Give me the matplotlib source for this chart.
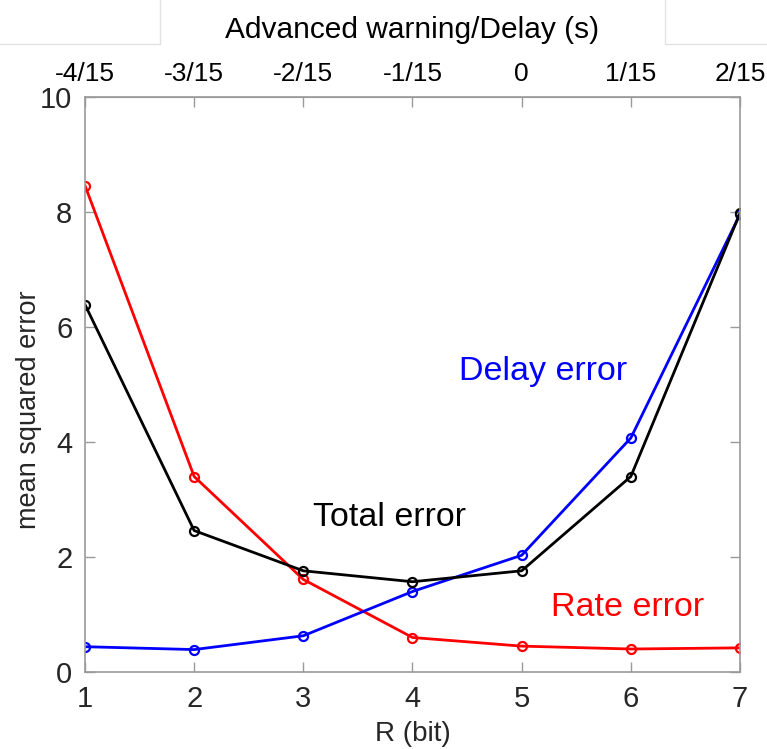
import matplotlib.pyplot as plt
from matplotlib.lines import Line2D

plt.rcParams['font.family'] = ['Liberation Sans', 'DejaVu Sans']

# data
R_bits = [1, 2, 3, 4, 5, 6, 7]
top_labels = ['-4/15', '-3/15', '-2/15', '-1/15', '0', '1/15', '2/15']
rate_err = [8.46, 3.40, 1.61, 0.60, 0.45, 0.40, 0.42]
delay_err = [0.44, 0.39, 0.63, 1.40, 2.03, 4.07, 7.96]
total_err = [6.39, 2.46, 1.76, 1.57, 1.76, 3.40, 7.98]

grey = '#9a9a9a'
txt = '#262626'

fig = plt.figure(figsize=(7.67, 7.49), dpi=100)
ax = fig.add_axes([0.1108, 0.1028, 0.854, 0.7677])

style = dict(lw=2, marker='o', ms=6.5, mfc='none', mew=1.6)
ax.plot(R_bits, rate_err, color='#ff0000', **style)
ax.plot(R_bits, delay_err, color='#0000ff', **style)
ax.plot(R_bits, total_err, color='black', **style)

ax.set_xlim(1, 7)
ax.set_ylim(0, 10)
ax.set_xticks(R_bits)
ax.set_yticks([0, 2, 4, 6, 8, 10])
for s in ax.spines.values():
    s.set_color(grey)
    s.set_linewidth(1.2)
ax.tick_params(direction='in', length=7, width=1, color=grey, labelcolor=txt,
               labelsize=21, top=False, right=True, pad=9)
ax.set_xlabel('R (bit)', fontsize=20, color=txt, labelpad=6)
ax.set_ylabel('mean squared error', fontsize=19.5, color=txt)
ax.yaxis.set_label_coords(-0.066, 0.457)

top = ax.secondary_xaxis('top')
top.set_xticks(R_bits)
top.set_xticklabels(top_labels)
top.tick_params(direction='in', length=7, width=1, color=grey, labelcolor='black',
                labelsize=19, pad=8)
top.spines['top'].set_color(grey)
top.set_xlabel('Advanced warning/Delay (s)', fontsize=21.5, color='black', labelpad=17)

ax.text(5.20, 5.22, 'Delay error', color='#0000ff', fontsize=24.5, ha='center', va='center')
ax.text(3.79, 2.68, 'Total error', color='black', fontsize=24.5, ha='center', va='center')
ax.text(5.97, 1.13, 'Rate error', color='#ff0000', fontsize=24.5, ha='center', va='center')

# faint frame edges seen at the top of the screenshot
fc = '#e2e2e2'
fig.add_artist(Line2D([0, 160 / 767, 160 / 767], [1 - 44 / 749, 1 - 44 / 749, 1],
                      transform=fig.transFigure, color=fc, lw=1))
fig.add_artist(Line2D([1, 665 / 767, 665 / 767], [1 - 44 / 749, 1 - 44 / 749, 1],
                      transform=fig.transFigure, color=fc, lw=1))

fig.savefig('out.png', dpi=100)
